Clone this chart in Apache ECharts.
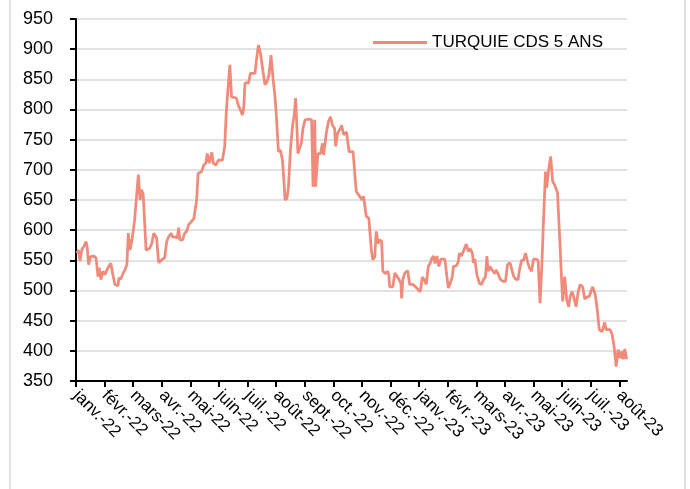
<!DOCTYPE html>
<html>
<head>
<meta charset="utf-8">
<script src="https://cdn.jsdelivr.net/npm/echarts@6/dist/echarts.min.js"></script>
<style>
  html, body { margin: 0; padding: 0; background: #fff; }
  #chart { width: 690px; height: 489px; }
</style>
</head>
<body>
<div id="chart"></div>
<script>
// libellés des mois (un tick par début de mois)
const monthLabels = ['janv.-22', 'févr.-22', 'mars-22', 'avr.-22', 'mai-22', 'juin-22', 'juil.-22', 'août-22',
  'sept.-22', 'oct.-22', 'nov.-22', 'déc.-22', 'janv.-23', 'févr.-23', 'mars-23', 'avr.-23', 'mai-23',
  'juin-23', 'juil.-23', 'août-23']

// position en mois depuis le 1er janv. 2022
const monthPos = [
  0.02, 0.09, 0.14, 0.21, 0.28, 0.35, 0.39, 0.44, 0.51, 0.63, 0.70, 0.77, 0.81, 0.87, 0.94,
  1.01, 1.08, 1.15, 1.22, 1.29, 1.36, 1.47, 1.50, 1.57, 1.64, 1.71, 1.78, 1.83, 1.89, 1.96,
  2.05, 2.18, 2.24, 2.29, 2.35, 2.45, 2.58, 2.65, 2.72, 2.82, 2.89,
  3.03, 3.10, 3.17, 3.24, 3.33, 3.38, 3.46, 3.54, 3.59, 3.63, 3.73, 3.80, 3.87, 3.94,
  4.01, 4.12, 4.22, 4.27, 4.39, 4.47, 4.54, 4.59, 4.66, 4.70, 4.75, 4.80, 4.89, 4.98,
  5.12, 5.20, 5.26, 5.38, 5.44, 5.61, 5.67, 5.75, 5.82, 5.87, 5.91, 5.96,
  6.03, 6.10, 6.15, 6.26, 6.31, 6.38, 6.45, 6.54, 6.61, 6.68, 6.75, 6.82, 6.89, 6.96,
  7.01, 7.08, 7.15, 7.22, 7.27, 7.31, 7.38, 7.43, 7.50, 7.57, 7.64, 7.68, 7.73, 7.76, 7.82, 7.88, 7.94,
  8.01, 8.17, 8.24, 8.29, 8.35, 8.38, 8.46, 8.55, 8.62, 8.66, 8.71, 8.76, 8.83, 8.90, 8.97,
  9.04, 9.08, 9.15, 9.25, 9.29, 9.36, 9.46, 9.55, 9.69, 9.80, 9.92,
  10.01, 10.06, 10.15, 10.24, 10.33, 10.38, 10.45, 10.50, 10.57, 10.62, 10.69, 10.73, 10.83, 10.90, 10.94, 10.97,
  11.08, 11.15, 11.29, 11.36, 11.39, 11.43, 11.50, 11.60, 11.67, 11.78, 11.88, 11.97,
  12.04, 12.11, 12.18, 12.25, 12.32, 12.39, 12.43, 12.50, 12.55, 12.62, 12.69, 12.76, 12.90,
  13.02, 13.09, 13.16, 13.20, 13.30, 13.37, 13.41, 13.48, 13.65, 13.72, 13.79, 13.86, 13.90, 13.95,
  14.02, 14.11, 14.18, 14.25, 14.32, 14.37, 14.41, 14.48, 14.55, 14.65, 14.69, 14.76, 14.83, 14.93,
  15.02, 15.09, 15.18, 15.30, 15.37, 15.46, 15.51, 15.58, 15.65, 15.72, 15.79, 15.86, 15.93,
  16.00, 16.09, 16.16, 16.23, 16.30, 16.35, 16.42, 16.46, 16.53, 16.60, 16.67, 16.74, 16.84, 16.93, 16.96,
  17.02, 17.09, 17.16, 17.23, 17.28, 17.35, 17.42, 17.49, 17.56, 17.63, 17.72, 17.79, 17.86, 17.95,
  18.02, 18.07, 18.16, 18.23, 18.30, 18.40, 18.49, 18.54, 18.68, 18.75, 18.82, 18.89, 18.96,
  19.03, 19.10, 19.14, 19.19, 19.26
]

// CDS 5 ans Turquie (pb)
const cds = [
  562, 567, 549, 569, 573, 581, 573, 543, 556, 557, 554, 523, 538, 518, 532,
  526, 534, 540, 545, 526, 510, 508, 521, 519, 528, 534, 543, 595, 567, 584,
  617, 692, 650, 667, 659, 567, 570, 578, 595, 587, 546,
  552, 554, 581, 589, 595, 589, 589, 587, 604, 584, 584, 595, 598, 609,
  613, 619, 650, 694, 697, 708, 711, 727, 711, 720, 729, 711, 708, 716,
  716, 739, 799, 874, 821, 819, 808, 799, 791, 805, 844, 846,
  844, 860, 857, 860, 882, 907, 893, 863, 841, 846, 857, 890, 852, 821,
  788, 730, 733, 716, 683, 650, 653, 672, 733, 772, 794, 819, 766, 727, 736, 744, 769,
  783, 784, 783, 672, 783, 672, 727, 727, 744, 725, 744, 763, 780, 788, 774,
  769, 739, 761, 769, 774, 758, 763, 730, 730, 664, 656,
  650, 656, 623, 620, 567, 551, 556, 598, 578, 584, 581, 532, 528, 532, 526, 506,
  506, 529, 519, 512, 487, 518, 529, 533, 510, 510, 506, 501,
  498, 522, 518, 510, 540, 545, 552, 557, 545, 557, 540, 552, 552,
  504, 512, 523, 540, 541, 548, 562, 557, 577, 565, 569, 562, 546, 552,
  526, 512, 510, 518, 522, 557, 532, 540, 534, 528, 534, 528, 519, 515,
  515, 543, 546, 524, 519, 518, 534, 550, 550, 562, 548, 537, 532,
  552, 552, 550, 479, 551, 617, 697, 670, 700, 722, 681, 675, 662, 573, 540,
  482, 523, 485, 473, 490, 498, 487, 473, 497, 510, 506, 486, 489, 490,
  500, 506, 493, 468, 435, 432, 447, 435, 435, 427, 407, 374, 402,
  388, 399, 386, 403, 386
]

const yTicks = { min: 350, max: 950, step: 50 }
const seriesName = 'TURQUIE CDS 5 ANS'

const chart = echarts.init(document.getElementById('chart'))

const option = {
  animation: false,
  backgroundColor: '#fff',
  textStyle: { fontFamily: 'Liberation Sans' },
  graphic: [{
    type: 'rect',
    shape: { x: 10, y: -5, width: 675, height: 510 },
    style: { fill: 'none', stroke: '#d9d9d9', lineWidth: 1.5 },
    silent: true
  }],
  legend: {
    data: [seriesName],
    left: 368,
    top: 29,
    icon: 'rect',
    itemWidth: 54,
    itemHeight: 3,
    itemGap: 6,
    textStyle: { color: '#000', fontSize: 17, fontFamily: 'Liberation Sans' }
  },
  grid: {
    left: 76,
    right: 63,
    top: 19,
    bottom: 108
  },
  xAxis: {
    type: 'value',
    min: 0,
    max: 19.27,
    interval: 1,
    splitLine: { show: false },
    axisLine: { lineStyle: { color: '#000', width: 2 } },
    axisTick: {
      length: 6,
      lineStyle: { color: '#000', width: 2 },
      customValues: monthLabels.map((_, i) => i)
    },
    axisLabel: {
      rotate: -45,
      margin: 12,
      color: '#000',
      fontSize: 17,
      customValues: monthLabels.map((_, i) => i),
      formatter: v => monthLabels[Math.round(v)] || ''
    }
  },
  yAxis: {
    type: 'value',
    min: yTicks.min,
    max: yTicks.max,
    interval: yTicks.step,
    axisLine: { show: true, lineStyle: { color: '#000', width: 2 } },
    axisTick: { show: true, length: 6, lineStyle: { color: '#000', width: 2 } },
    axisLabel: { color: '#000', fontSize: 18, margin: 23 },
    splitLine: { lineStyle: { color: '#d9d9d9', width: 1.5 } }
  },
  series: [{
    name: seriesName,
    type: 'line',
    showSymbol: false,
    symbol: 'none',
    color: '#f08a7a',
    lineStyle: { color: '#f08a7a', width: 2.75 },
    data: monthPos.map((m, i) => [m, cds[i]])
  }]
}

chart.setOption(option)
</script>
</body>
</html>
